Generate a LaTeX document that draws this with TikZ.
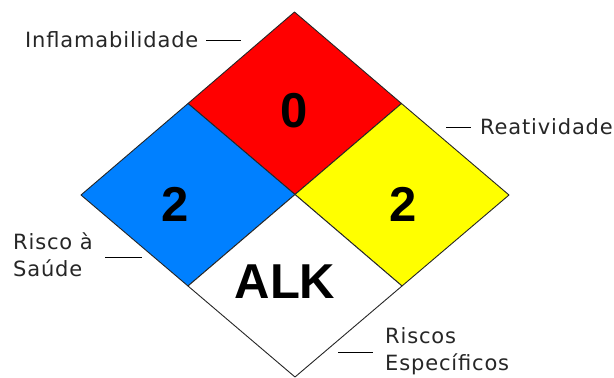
\documentclass[tikz,border=0pt]{standalone}
\usepackage{fontspec}
\setmainfont{Liberation Sans}
\newfontfamily\labelfont[LetterSpace=4]{DejaVu Sans}
\usetikzlibrary{positioning}
\definecolor{firered}{RGB}{255,0,0}
\definecolor{healthblue}{RGB}{0,128,255}
\definecolor{reactyellow}{RGB}{255,255,0}

\begin{document}
\begin{tikzpicture}[x=1pt,y=-1pt,
    quad/.style={draw=black!85, line width=0.9pt, line join=round},
    rating/.style={font=\bfseries\fontsize{49}{49}\selectfont, inner sep=0pt},
    lbl/.style={font=\labelfont\fontsize{21}{27}\selectfont, text=black!85,
      inner sep=0pt, align=left},
    leader/.style={draw=black, line width=1pt}]
    \useasboundingbox (0,0) rectangle (614,378);
    %% corners of the diamond
    \coordinate (T) at (294.5,12);
    \coordinate (L) at (81,195);
    \coordinate (R) at (509,195);
    \coordinate (B) at (295,377);
    \coordinate (C) at (295,194.5);
    \coordinate (TL) at (188,103.5);
    \coordinate (TR) at (401.5,103.5);
    \coordinate (BL) at (188,286);
    \coordinate (BR) at (402,286);
    %% the four quarters
    \path [quad, fill=firered] (T) -- (TR) -- (C) -- (TL) -- cycle;
    \path [quad, fill=healthblue] (TL) -- (C) -- (BL) -- (L) -- cycle;
    \path [quad, fill=reactyellow] (TR) -- (R) -- (BR) -- (C) -- cycle;
    \path [quad, fill=white] (C) -- (BR) -- (B) -- (BL) -- cycle;
    %% ratings
    \node [rating] (fire) at (294,111) {0};
    \node [rating] (health) at (175,204) {2};
    \node [rating] (react) at (403,204) {2};
    \node [rating] (special) at (285,282) {ALK};
    %% labels
    \node [lbl, anchor=west] (infl) at (25,40) {Inflamabilidade};
    \coordinate (inflA) at (206,40);
    \coordinate (inflB) at (241,40);
    \path [leader] (inflA) -- (inflB);
    \node [lbl, anchor=west] (reat) at (480,127) {Reatividade};
    \coordinate (reatA) at (446,127);
    \coordinate (reatB) at (471,127);
    \path [leader] (reatA) -- (reatB);
    \node [lbl, anchor=west] (saude) at (13,254.5) {Risco à\\Saúde};
    \coordinate (saudeA) at (105,257);
    \coordinate (saudeB) at (142,257);
    \path [leader] (saudeA) -- (saudeB);
    \node [lbl, anchor=west] (espec) at (385,351) {Riscos\\Específicos};
    \coordinate (especA) at (338,352);
    \coordinate (especB) at (373,352);
    \path [leader] (especA) -- (especB);
\end{tikzpicture}
\end{document}
